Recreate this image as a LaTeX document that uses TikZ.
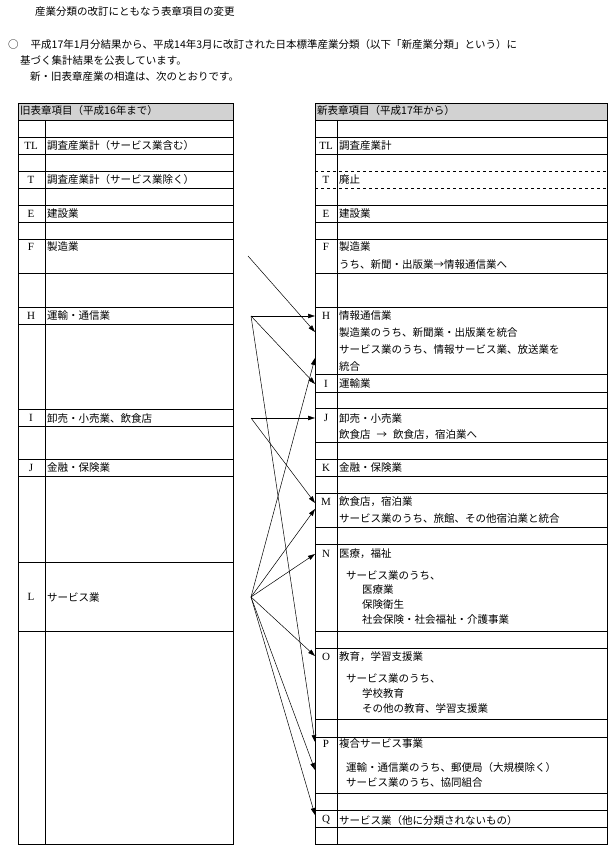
\documentclass[tikz,border=0pt]{standalone}
\usepackage{fontspec}
\setmainfont{Noto Sans CJK JP}
\newfontfamily\letf{Liberation Serif}
\usetikzlibrary{arrows.meta}
\begin{document}
\begin{tikzpicture}[x=1pt,y=-1pt,
  tx/.style={anchor=west,inner sep=0pt,font=\fontsize{10.5}{12}\selectfont},
  lt/.style={inner sep=0pt,font=\letf\fontsize{11}{12}\selectfont},
  arr/.style={-{Triangle[length=7pt,width=4.5pt]},line width=0.5pt},
  grid/.style={line width=0.8pt}]
\useasboundingbox (0,0) rectangle (610,861);
\fill[white] (0,0) rectangle (610,861);
% text header
\node[tx] (title) at (35,12) {産業分類の改訂にともなう表章項目の変更};
\node[tx] (p1) at (8,45) {○\hspace{12pt}平成17年1月分結果から、平成14年3月に改訂された日本標準産業分類（以下「新産業分類」という）に};
\node[tx] (p2) at (20,61) {基づく集計結果を公表しています。};
\node[tx] (p3) at (30,77) {新・旧表章産業の相違は、次のとおりです。};
% left table
\fill[gray!35] (18,103) rectangle (233,120);
\fill[gray!35] (315,103) rectangle (607,120);
\draw[grid] (18,103) rectangle (233,844);
\draw[grid] (45,120) -- (45,844);
\foreach \y in {120,137,154,171,188,205,222,239,273,307,324,409,426,459,476,562,631}
  \draw[grid] (18,\y) -- (233,\y);
% right table
\draw[grid] (315,103) rectangle (607,844);
\draw[grid] (337,120) -- (337,844);
\foreach \y in {120,137,154,205,222,239,273,307,374,392,408,442,459,476,493,527,544,631,648,719,737,793,810,827}
  \draw[grid] (315,\y) -- (607,\y);
\draw[dashed,line width=0.6pt] (315,171) -- (607,171);
\draw[dashed,line width=0.6pt] (315,188) -- (607,188);
\node[tx] (lh) at (20,111) {旧表章項目（平成16年まで）};
\node[tx] (rh) at (317,111) {新表章項目（平成17年から）};
% left rows
\node[lt] at (31,146) {TL}; \node[tx] (lTL) at (47,146) {調査産業計（サービス業含む）};
\node[lt] at (31,180) {T}; \node[tx] (lT) at (47,180) {調査産業計（サービス業除く）};
\node[lt] at (31,214) {E}; \node[tx] (lE) at (47,214) {建設業};
\node[lt] at (31,247) {F}; \node[tx] (lF) at (47,247) {製造業};
\node[lt] at (31,316) {H}; \node[tx] (lH) at (47,316) {運輸・通信業};
\node[lt] at (31,418) {I}; \node[tx] (lI) at (47,418) {卸売・小売業、飲食店};
\node[lt] at (31,468) {J}; \node[tx] (lJ) at (47,468) {金融・保険業};
\node[lt] at (31,597) {L}; \node[tx] (lL) at (47,597) {サービス業};
% right rows
\node[lt] at (326,146) {TL}; \node[tx] at (339,146) {調査産業計};
\node[lt] at (326,180) {T}; \node[tx] at (339,180) {廃止};
\node[lt] at (326,214) {E}; \node[tx] at (339,214) {建設業};
\node[lt] at (326,247) {F}; \node[tx] at (339,247) {製造業};
\node[tx] at (339,265) {うち、新聞・出版業→情報通信業へ};
\node[lt] at (326,316) {H}; \node[tx] at (339,316) {情報通信業};
\node[tx] at (339,333) {製造業のうち、新聞業・出版業を統合};
\node[tx] at (339,350) {サービス業のうち、情報サービス業、放送業を};
\node[tx] at (339,367) {統合};
\node[lt] at (326,384) {I}; \node[tx] at (339,384) {運輸業};
\node[lt] at (326,418) {J}; \node[tx] at (339,418) {卸売・小売業};
\node[tx] at (339,435) {飲食店\hspace{6pt}→\hspace{6pt}飲食店，宿泊業へ};
\node[lt] at (326,468) {K}; \node[tx] at (339,468) {金融・保険業};
\node[lt] at (326,502) {M}; \node[tx] at (339,502) {飲食店，宿泊業};
\node[tx] at (339,519) {サービス業のうち、旅館、その他宿泊業と統合};
\node[lt] at (326,554) {N}; \node[tx] at (339,554) {医療，福祉};
\node[tx] at (346,575) {サービス業のうち、};
\node[tx] at (362,590) {医療業};
\node[tx] at (362,605) {保険衛生};
\node[tx] at (362,620) {社会保険・社会福祉・介護事業};
\node[lt] at (326,657) {O}; \node[tx] at (339,657) {教育，学習支援業};
\node[tx] at (346,678) {サービス業のうち、};
\node[tx] at (362,693) {学校教育};
\node[tx] at (362,708) {その他の教育、学習支援業};
\node[lt] at (326,744) {P}; \node[tx] at (339,744) {複合サービス事業};
\node[tx] at (346,767) {運輸・通信業のうち、郵便局（大規模除く）};
\node[tx] at (346,783) {サービス業のうち、協同組合};
\node[lt] at (326,820) {Q}; \node[tx] at (339,820) {サービス業（他に分類されないもの）};
% arrow endpoints
\coordinate (sF) at (248,256);
\coordinate (sH) at (251,316);
\coordinate (sI) at (251,418);
\coordinate (sL) at (251,597);
\coordinate (eH1) at (315,316);
\coordinate (eH2) at (315,332);
\coordinate (eH3) at (315,358);
\coordinate (eI) at (315,384);
\coordinate (eJ) at (315,418);
\coordinate (eM1) at (315,503);
\coordinate (eM2) at (315,509);
\coordinate (eN) at (315,554);
\coordinate (eO) at (315,656);
\coordinate (eP1) at (315,742);
\coordinate (eP2) at (315,770);
\coordinate (eQ) at (315,815);
\draw[arr] (sF) -- (eH2);
\draw[arr] (sH) -- (eH1);
\draw[arr] (sH) -- (eI);
\draw[arr] (sH) -- (eP1);
\draw[arr] (sI) -- (eJ);
\draw[arr] (sI) -- (eM1);
\draw[arr] (sL) -- (eH3);
\draw[arr] (sL) -- (eM2);
\draw[arr] (sL) -- (eN);
\draw[arr] (sL) -- (eO);
\draw[arr] (sL) -- (eP2);
\draw[arr] (sL) -- (eQ);
\end{tikzpicture}
\end{document}
